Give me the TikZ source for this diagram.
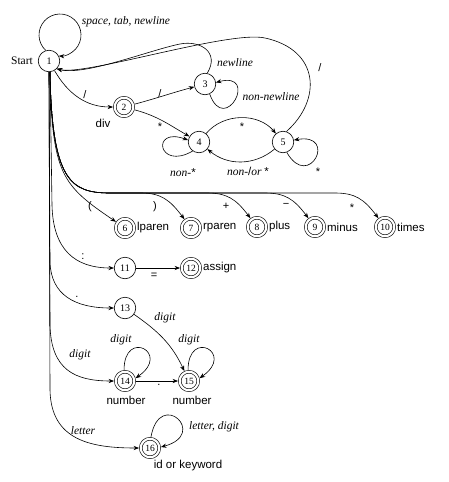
\documentclass[tikz,border=0pt]{standalone}
\usepackage{fontspec}
\setmainfont{Liberation Serif}
\setsansfont{Liberation Sans}
\usetikzlibrary{arrows.meta,calc}
\begin{document}
\begin{tikzpicture}[x=1pt,y=1pt,
  st/.style={circle,draw,line width=0.6pt,minimum size=21.5pt,inner sep=0pt,font=\fontsize{10}{11}\selectfont},
  acc/.style={circle,draw,line width=0.6pt,double,double distance=2.2pt,minimum size=18.5pt,inner sep=0pt,outer sep=1.7pt,font=\fontsize{9.5}{10}\selectfont},
  tr/.style={-{Stealth[length=5.5pt,width=4.2pt]},line width=0.6pt},
  sym/.style={font=\sffamily\fontsize{11}{12}\selectfont,inner sep=1pt},
  it/.style={font=\itshape\fontsize{11.5}{13}\selectfont,inner sep=1pt},
  sl/.style={font=\sffamily\fontsize{11.5}{13}\selectfont,inner sep=1pt},
  rm/.style={font=\fontsize{11.5}{13}\selectfont,inner sep=1pt}
]
\useasboundingbox (0,0) rectangle (448,-482);
% states
\node[st] (n1) at (49,-61) {1};
\node[rm] (start) at (22,-61) {Start};
\node[acc] (n2) at (124,-107) {2};
\node[st] (n3) at (205,-84) {3};
\node[st] (n4) at (199,-142) {4};
\node[st] (n5) at (283,-142) {5};
\node[acc] (n6) at (125,-228) {6};
\node[acc] (n7) at (191,-228) {7};
\node[acc] (n8) at (257,-227) {8};
\node[acc] (n9) at (315,-227) {9};
\node[acc] (n10) at (385,-227) {10};
\node[st] (n11) at (125,-268) {11};
\node[acc] (n12) at (191,-268) {12};
\node[st] (n13) at (125,-308) {13};
\node[acc] (n14) at (125,-381) {14};
\node[acc] (n15) at (189,-381) {15};
\node[acc] (n16) at (150,-448) {16};
% state labels
\node[sl] (ldiv) at (103,-123) {div};
\node[sl,anchor=west] (l6) at (n6.east) {lparen};
\node[sl,anchor=west] (l7) at (n7.east) {rparen};
\node[sl,anchor=west] (l8) at (n8.east) {plus};
\node[sl,anchor=west] (l9) at (n9.east) {minus};
\node[sl,anchor=west] (l10) at (n10.east) {times};
\node[sl,anchor=west] (l12) at (n12.east) {assign};
\node[sl] (l14) at (126,-400) {number};
\node[sl] (l15) at (192,-400) {number};
\node[sl] (l16) at (188,-466) {id or keyword};
% transitions
\draw[tr] (n1.107) arc[start angle=227.3, end angle=-93.3, radius=21pt];
\draw[tr] (n1) to[out=-60,in=180] (n2);
\draw[tr] (n2) to[out=15,in=195] (n3);
\draw[tr] (n2) to[out=-15,in=150] (n4);
\draw[tr] (n3.-65) .. controls ($(n3.-65)+(-70:45)$) and ($(n3.8)+(15:45)$) .. (n3.8);
\draw[tr] (n3.78) .. controls (220,-52) and (200,-40) .. (180,-44) .. controls (150,-50) and (85,-76) .. (n1.-45);
\draw[tr] (n4) to[out=50,in=130] (n5);
\draw[tr] (n5) to[out=-140,in=-40] (n4);
\draw[tr] (n4.-125) .. controls ($(n4.-125)+(-150:40)$) and ($(n4.170)+(160:40)$) .. (n4.170);
\draw[tr] (n5.-70) .. controls ($(n5.-70)+(-60:45)$) and ($(n5.10)+(10:45)$) .. (n5.10);
\draw[tr] (n5.72) .. controls (322,-100) and (320,-50) .. (265,-38) .. controls (230,-30) and (85,-76) .. (n1.-45);
% bundle
\draw[tr] (n1.-85) .. controls (52,-175) and (62,-185) .. (n6);
\draw[tr] (n1.-85) .. controls (52,-180) and (70,-193) .. (110,-193) -- (141,-193) .. controls (161,-193) and (170,-200) .. (n7);
\draw[tr] (n1.-85) .. controls (52,-180) and (70,-193) .. (110,-193) -- (207,-193) .. controls (227,-193) and (236,-199) .. (n8);
\draw[tr] (n1.-85) .. controls (52,-180) and (70,-193) .. (110,-193) -- (265,-193) .. controls (285,-193) and (294,-199) .. (n9);
\draw[tr] (n1.-85) .. controls (52,-180) and (70,-193) .. (110,-193) -- (335,-193) .. controls (355,-193) and (364,-199) .. (n10);
% lower
\draw[tr] (n1.-85) -- (52,-205) .. controls (53,-250) and (75,-268) .. (n11);
\draw[tr] (n11) -- (n12);
\draw[tr] (n1.south) -- (50,-262) .. controls (51,-295) and (75,-308) .. (n13);
\draw[tr] (n13) to[out=-35,in=115] (n15);
\draw[tr] (n1.south) -- (50,-325) .. controls (51,-370) and (75,-381) .. (n14);
\draw[tr] (n14) -- (n15);
\draw[tr] (n14.95) .. controls ($(n14.95)+(90:42)$) and ($(n14.15)+(35:44)$) .. (n14.15);
\draw[tr] (n15.95) .. controls ($(n15.95)+(90:42)$) and ($(n15.15)+(35:44)$) .. (n15.15);
\draw[tr] (n1.south) -- (50,-390) .. controls (51,-440) and (90,-448) .. (n16);
\draw[tr] (n16.85) .. controls ($(n16.85)+(80:50)$) and ($(n16.5)+(15:50)$) .. (n16.5);
% edge labels
\node[it] (e1) at (126,-22) {space, tab, newline};
\node[sym] (e2) at (85,-95) {/};
\node[sym] (e3) at (160,-94) {/};
\node[sym] (e4) at (160,-127) {*};
\node[it] (e5) at (235,-63) {newline};
\node[it] (e6) at (271,-97) {non-newline};
\node[sym] (e7) at (320,-68) {/};
\node[sym] (e8) at (242,-127) {*};
\node[it] (e9) at (183,-173) {non-\textup{\sffamily *}};
\node[it] (e10) at (248,-171) {non-\textup{\sffamily /}or \textup{\sffamily *}};
\node[sym] (e11) at (318,-172) {*};
\node[sym] (e12) at (90,-207) {(};
\node[sym] (e13) at (155,-207) {)};
\node[sym] (e14) at (226,-206) {+};
\node[sym] (e15) at (286,-205) {\char"2212};
\node[sym] (e16) at (352,-208) {*};
\node[sym] (e17) at (83,-257) {:};
\node[sym] (e18) at (154,-276) {=};
\node[sym] (e19) at (77,-297) {.};
\node[it] (e20) at (165,-318) {digit};
\node[it] (e21) at (80,-355) {digit};
\node[it] (e22) at (121,-340) {digit};
\node[it] (e23) at (189,-340) {digit};
\node[sym] (e24) at (159,-385) {.};
\node[it] (e25) at (83,-431) {letter};
\node[it] (e26) at (214,-427) {letter, digit};
\end{tikzpicture}
\end{document}
